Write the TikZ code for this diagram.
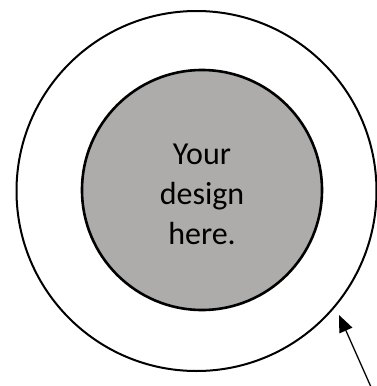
\documentclass[tikz,border=0pt]{standalone}
\usepackage{fontspec}
\setmainfont{Carlito}
\usepackage{xcolor}
\usepackage{tikz}
\usetikzlibrary{positioning,arrows.meta}
\definecolor{designgray}{HTML}{AEABAB}
\tikzset{
  % --- rings -----------------------------------------------------------------
  ring/.style={circle,draw=black,line width=2pt,inner sep=0pt},
  outerring/.style={ring,minimum size=360pt},
  innerring/.style={ring,fill=designgray,line width=2.6pt,minimum size=240pt},
  designtext/.style={align=center,inner sep=0pt,
                     font=\fontsize{32}{40}\selectfont},
  % --- pointer ---------------------------------------------------------------
  pointer/.style={-{Triangle[length=17pt,width=14pt]},line width=1.3pt,black},
}
\begin{document}
\begin{tikzpicture}[x=1pt, y=-1pt]
  \useasboundingbox (0,0) rectangle (377,386);
  \node[outerring] (outer) at (196.5,191) {};
  \node[innerring] (design) at (202,190) {};
  \node[designtext] (label) at ([yshift=-4pt]design.center) {Your\\design\\here.};

  % pointer to the outer ring
  \coordinate (tail) at (371,387);
  \coordinate (tip)  at (339,315);
  \draw[pointer] (tail) -- (tip);
\end{tikzpicture}
\end{document}
